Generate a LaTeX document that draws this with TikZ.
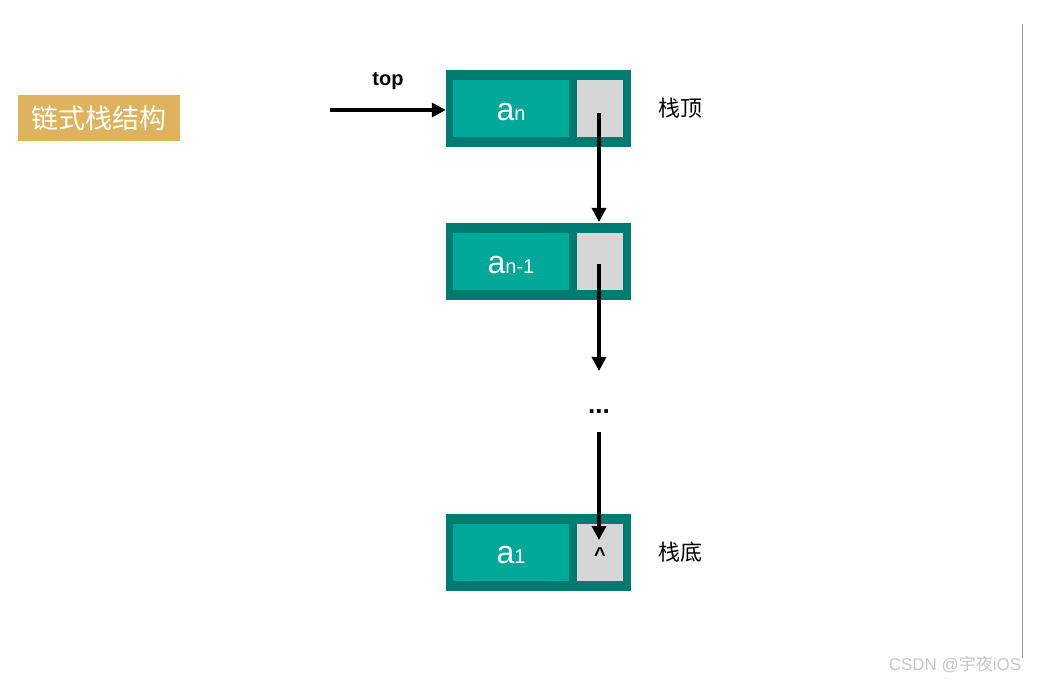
\documentclass[tikz,border=0pt]{standalone}
\usepackage{fontspec}
\setmainfont{Liberation Sans}
\newfontfamily\cjk{Noto Sans CJK SC}
\usetikzlibrary{arrows.meta}
\definecolor{tealdark}{HTML}{007B72}
\definecolor{tealmid}{HTML}{00A89A}
\definecolor{ptrgray}{HTML}{D6D6D6}
\definecolor{titlegold}{HTML}{DDB35D}
\newcommand{\elem}[1]{{\fontsize{32pt}{32pt}\selectfont a}{\fontsize{20pt}{20pt}\selectfont #1}}

\begin{document}
\begin{tikzpicture}[x=1pt,y=-1pt,
	outer/.style={fill=tealdark, minimum width=185pt, minimum height=77pt, inner sep=0pt},
	datacell/.style={fill=tealmid, minimum width=116pt, minimum height=57pt, inner sep=0pt, text=white},
	ptrcell/.style={fill=ptrgray, minimum width=46pt, minimum height=57pt, inner sep=0pt},
	link/.style={line width=3.4pt, -{Triangle[length=14pt,width=14pt]}},
	side/.style={font=\cjk\fontsize{22pt}{22pt}\selectfont, anchor=west}]
	\useasboundingbox (0,0) rectangle (1041,684);
	\draw[gray!80, line width=0.8pt] (1022,24) -- (1022,658);
	\node[fill=titlegold, text=white, minimum width=162pt, minimum height=46pt, inner sep=0pt,
		font=\cjk\fontsize{27pt}{27pt}\selectfont] (title) at (99,118) {链式栈结构};
	\node[outer] (o1) at (538.5,108.5) {};
	\node[datacell] (d1) at (511,108.5) {};
	\node[text=white] (e1) at (511,112) {\elem{n}};
	\node[ptrcell] (p1) at (600,108.5) {};
	\node[outer] (o2) at (538.5,261.5) {};
	\node[datacell] (d2) at (511,261.5) {};
	\node[text=white] (e2) at (511,265) {\elem{n-1}};
	\node[ptrcell] (p2) at (600,261.5) {};
	\node[outer] (o3) at (538.5,552) {};
	\node[datacell] (d3) at (511,552) {};
	\node[text=white] (e3) at (511,555.5) {\elem{1}};
	\node[ptrcell] (p3) at (600,552) {};
	\node[font=\bfseries\fontsize{20pt}{20pt}\selectfont] (nil) at (600,555) {\textasciicircum};
	\node[side] (topname) at (655,108) {栈顶};
	\node[side] (botname) at (655,552) {栈底};
	\node[font=\bfseries\fontsize{20pt}{20pt}\selectfont] (toplabel) at (388,81) {top};
	\node[font=\bfseries\fontsize{26pt}{26pt}\selectfont] (dots) at (599,412) {...};
	\coordinate (start) at (330,110);
	\coordinate (t1) at (599,113);
	\coordinate (h1) at (599,222);
	\coordinate (t2) at (599,264);
	\coordinate (h2) at (599,371);
	\coordinate (t3) at (599,432);
	\coordinate (h3) at (599,540);
	\draw[link] (start) -- (start -| o1.west);
	\draw[link] (t1) -- (h1);
	\draw[link] (t2) -- (h2);
	\draw[link] (t3) -- (h3);
	\node[text=gray!45, font=\fontsize{17pt}{17pt}\selectfont] (mark) at (955,664) {CSDN @{\cjk 宇夜}iOS};
\end{tikzpicture}
\end{document}
